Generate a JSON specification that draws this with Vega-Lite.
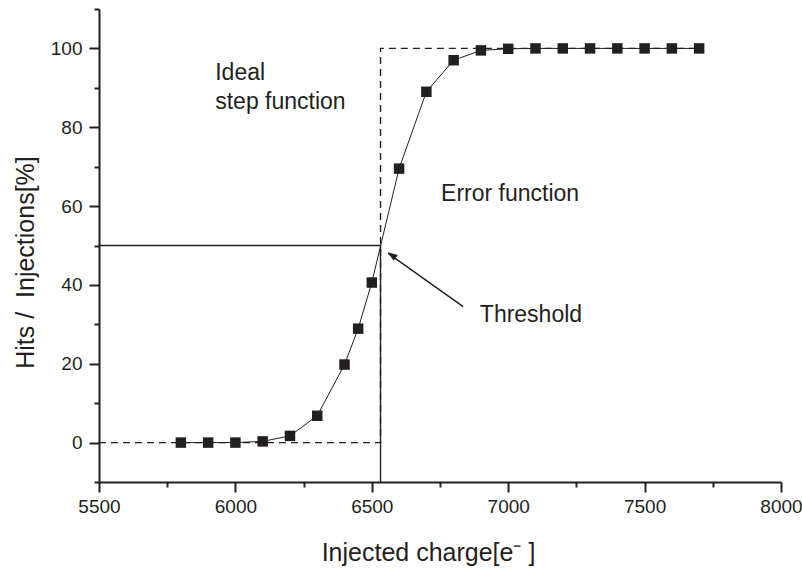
{
  "$schema": "https://vega.github.io/schema/vega-lite/v6.json",
  "width": 682,
  "height": 473,
  "autosize": "none",
  "padding": {"left": 99, "top": 9, "right": 21, "bottom": 86},
  "background": "white",
  "config": {
    "view": {"stroke": null},
    "font": "Liberation Sans",
    "axis": {
      "grid": false,
      "labelFlush": false,
      "labelOverlap": false,
      "domainColor": "#231f20",
      "domainWidth": 2,
      "tickColor": "#231f20",
      "tickWidth": 2,
      "labelFont": "Liberation Sans",
      "labelFontSize": 19,
      "labelColor": "#231f20",
      "titleFont": "Liberation Sans",
      "titleFontSize": 25,
      "titleFontWeight": "normal",
      "titleColor": "#231f20"
    }
  },
  "datasets": {
    "measured": [
      {"charge": 5800, "hits": 0},
      {"charge": 5900, "hits": 0},
      {"charge": 6000, "hits": 0},
      {"charge": 6100, "hits": 0.3},
      {"charge": 6200, "hits": 1.7},
      {"charge": 6300, "hits": 6.8},
      {"charge": 6400, "hits": 19.8},
      {"charge": 6450, "hits": 28.9},
      {"charge": 6500, "hits": 40.6},
      {"charge": 6600, "hits": 69.5},
      {"charge": 6700, "hits": 89},
      {"charge": 6800, "hits": 97},
      {"charge": 6900, "hits": 99.5},
      {"charge": 7000, "hits": 99.9},
      {"charge": 7100, "hits": 100},
      {"charge": 7200, "hits": 100},
      {"charge": 7300, "hits": 100},
      {"charge": 7400, "hits": 100},
      {"charge": 7500, "hits": 100},
      {"charge": 7600, "hits": 100},
      {"charge": 7700, "hits": 100}
    ],
    "ideal": [
      {"charge": 5500, "hits": 0},
      {"charge": 6532, "hits": 0},
      {"charge": 6532, "hits": 100},
      {"charge": 7710, "hits": 100}
    ],
    "threshold": [
      {"charge": 5500, "hits": 50},
      {"charge": 6532, "hits": 50},
      {"charge": 6532, "hits": -10}
    ],
    "arrow": [
      {"charge": 6835, "hits": 34.5},
      {"charge": 6560, "hits": 48.0}
    ],
    "arrowTip": [
      {"charge": 6558, "hits": 48.3}
    ],
    "notes": [
      {"charge": 5926, "hits": 91.9, "note": "Ideal"},
      {"charge": 5926, "hits": 84.6, "note": "step function"},
      {"charge": 6754, "hits": 61.2, "note": "Error function"},
      {"charge": 6896, "hits": 30.6, "note": "Threshold"}
    ]
  },
  "resolve": {"axis": {"x": "independent", "y": "independent"}},
  "layer": [
    {
      "encoding": {
        "x": {
          "field": "charge",
          "type": "quantitative",
          "scale": {"domain": [5500, 8000], "nice": false, "zero": false},
          "axis": {
            "orient": "bottom",
            "title": "Injected charge[e⁻ ]",
            "values": [5500, 6000, 6500, 7000, 7500, 8000],
            "format": "d",
            "tickSize": 10,
            "labelPadding": 5,
            "titleX": 329,
            "titleY": 78,
            "titleBaseline": "alphabetic"
          }
        },
        "y": {
          "field": "hits",
          "type": "quantitative",
          "scale": {"domain": [-10, 110], "nice": false, "zero": false},
          "axis": {
            "orient": "left",
            "title": "Hits / \u00a0Injections[%]",
            "values": [0, 20, 40, 60, 80, 100],
            "tickSize": 10,
            "labelPadding": 7,
            "titleX": -66,
            "titleY": 253,
            "titleBaseline": "alphabetic"
          }
        }
      },
      "layer": [
        {
          "data": {"name": "ideal"},
          "mark": {"type": "line", "color": "#231f20", "strokeWidth": 1.4, "strokeDash": [7, 5]},
          "encoding": {"order": {"value": null}}
        },
        {
          "data": {"name": "threshold"},
          "mark": {"type": "line", "color": "#231f20", "strokeWidth": 1.4},
          "encoding": {"order": {"value": null}}
        },
        {
          "data": {"name": "measured"},
          "mark": {"type": "line", "color": "#231f20", "strokeWidth": 1}
        },
        {
          "data": {"name": "measured"},
          "mark": {"type": "point", "shape": "square", "filled": true, "color": "#231f20", "size": 110, "opacity": 1}
        },
        {
          "data": {"name": "arrow"},
          "mark": {"type": "line", "color": "#231f20", "strokeWidth": 1.5}
        },
        {
          "data": {"name": "arrowTip"},
          "mark": {
            "type": "point",
            "shape": "M0,0L0.4,1.1L-0.4,1.1Z",
            "filled": true,
            "color": "#231f20",
            "size": 324,
            "angle": 305,
            "opacity": 1
          }
        },
        {
          "data": {"name": "notes"},
          "mark": {
            "type": "text",
            "align": "left",
            "baseline": "alphabetic",
            "font": "Liberation Sans",
            "fontSize": 23,
            "color": "#231f20"
          },
          "encoding": {"text": {"field": "note"}}
        }
      ]
    },
    {
      "data": {"name": "arrowTip"},
      "mark": {"type": "point", "opacity": 0},
      "encoding": {
        "x": {
          "field": "charge",
          "type": "quantitative",
          "scale": {"domain": [5500, 8000], "nice": false, "zero": false},
          "axis": {
            "orient": "bottom",
            "title": null,
            "values": [5750, 6250, 6750, 7250, 7750],
            "labels": false,
            "domain": false,
            "tickSize": 5
          }
        },
        "y": {
          "field": "hits",
          "type": "quantitative",
          "scale": {"domain": [-10, 110], "nice": false, "zero": false},
          "axis": {
            "orient": "left",
            "title": null,
            "values": [-10, 10, 30, 50, 70, 90, 110],
            "labels": false,
            "domain": false,
            "tickSize": 5
          }
        }
      }
    }
  ]
}
